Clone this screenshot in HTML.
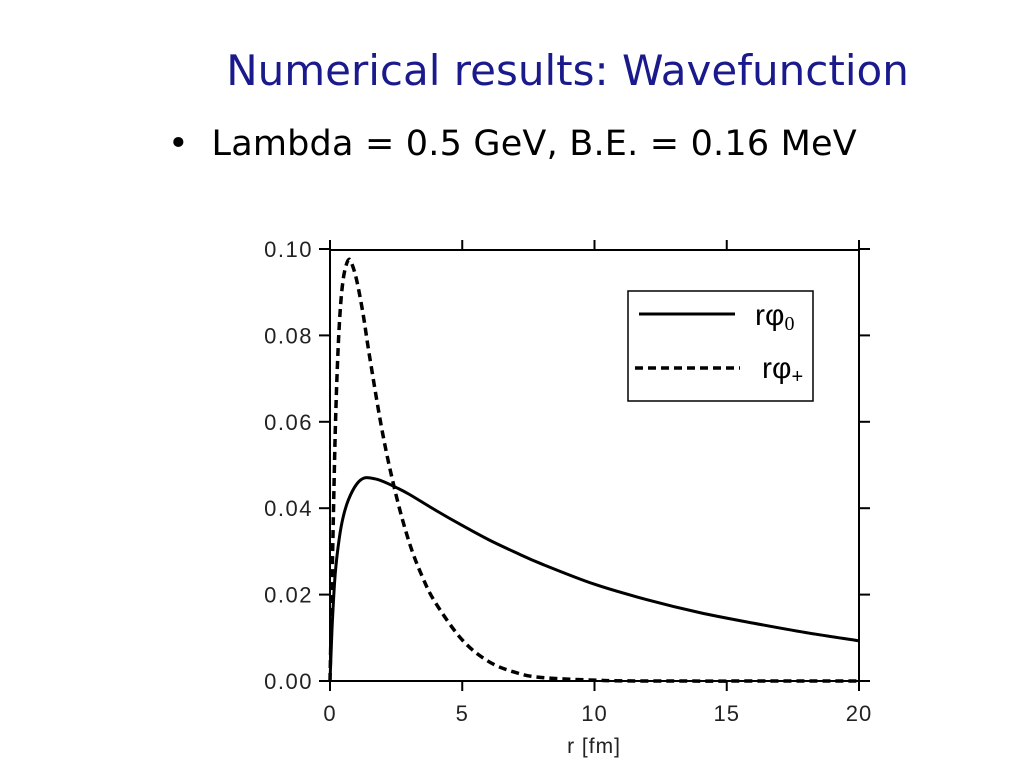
<!DOCTYPE html>
<html><head><meta charset="utf-8"><style>
body{margin:0;background:#fff;width:1024px;height:768px;overflow:hidden;font-family:"Liberation Sans",sans-serif}
.t{position:absolute;left:0;width:1135px;text-align:center;top:46px;font-size:42px;color:#1a1a8c;font-family:"DejaVu Sans","Liberation Sans",sans-serif;}
.b{position:absolute;left:168px;top:124px;font-size:35px;color:#000;font-family:"DejaVu Sans","Liberation Sans",sans-serif;letter-spacing:0.2px}
</style></head><body>
<div class="t">Numerical results: Wavefunction</div>
<div class="b">•&nbsp; Lambda = 0.5 GeV, B.E. = 0.16 MeV</div>
<svg id="c" width="1024" height="768" style="position:absolute;left:0;top:0"></svg>
<script>
const xTicks=[0,5,10,15,20];
const yTicks=[0,0.02,0.04,0.06,0.08,0.10];
const yTickLabels=["0.00","0.02","0.04","0.06","0.08","0.10"];
const rSolid=[0,0.05,0.1,0.2,0.35,0.5,0.7,1,1.3,1.7,2,2.5,3,4,5,6,7,8,10,12,14,16,18,20];
const phi0=[0,0.008,0.015,0.025,0.033,0.038,0.042,0.0455,0.047,0.0468,0.0462,0.0448,0.0432,0.0395,0.036,0.0327,0.0298,0.0271,0.0224,0.0188,0.0158,0.0134,0.0112,0.0093];
const rDash=[0,0.05,0.1,0.2,0.3,0.4,0.5,0.6,0.7,0.8,1,1.25,1.5,2,2.5,3,3.5,4,5,6,7,8,10,12,20];
const phiP=[0,0.015,0.03,0.058,0.076,0.087,0.093,0.096,0.0975,0.097,0.093,0.085,0.075,0.057,0.043,0.032,0.024,0.018,0.0095,0.0045,0.002,0.0008,0.0002,0,0];
const X=v=>330+v*(859-330)/20, Y=v=>681-v*4320;
const s=document.getElementById('c'),NS='http://www.w3.org/2000/svg';
function el(t,a,txt){const e=document.createElementNS(NS,t);for(const k in a)e.setAttribute(k,a[k]);if(txt!=null)e.textContent=txt;s.appendChild(e);return e;}
function path(xs,ys){const p=xs.map((x,i)=>[X(x),Y(ys[i])]);let d='M'+p[0];for(let i=0;i<p.length-1;i++){const p0=p[i-1]||p[i],p1=p[i],p2=p[i+1],p3=p[i+2]||p2;d+=' C'+(p1[0]+(p2[0]-p0[0])/6)+','+(p1[1]+(p2[1]-p0[1])/6)+' '+(p2[0]-(p3[0]-p1[0])/6)+','+(p2[1]-(p3[1]-p1[1])/6)+' '+p2;}return d;}
let f=el('rect',{x:330,y:250,width:529,height:431,fill:'none',stroke:'#000','stroke-width':2});

xTicks.forEach(v=>{let a=el('line',{x1:X(v),x2:X(v),y1:681,y2:691,stroke:'#000','stroke-width':2});
el('line',{x1:X(v),x2:X(v),y1:240,y2:250,stroke:'#000','stroke-width':2});
let t=el('text',{x:X(v),y:721,'text-anchor':'middle','font-size':22,fill:'#222','letter-spacing':1},v);});
yTicks.forEach((v,i)=>{let a=el('line',{x1:319,x2:330,y1:Y(v),y2:Y(v),stroke:'#000','stroke-width':2});
el('line',{x1:859,x2:870,y1:Y(v),y2:Y(v),stroke:'#000','stroke-width':2});
let t=el('text',{x:313,y:Y(v)+8,'text-anchor':'end','font-size':22,fill:'#222','letter-spacing':1.5},yTickLabels[i]);});
let xl=el('text',{x:594,y:753,'text-anchor':'middle','font-size':21,fill:'#222','letter-spacing':1},'r [fm]');
let l1=el('path',{d:path(rSolid,phi0),fill:'none',stroke:'#000','stroke-width':3});
let l2=el('path',{d:path(rDash,phiP),fill:'none',stroke:'#000','stroke-width':3.5,'stroke-dasharray':'8,5'});
let lg=el('rect',{x:628,y:291,width:185,height:110,fill:'#fff',stroke:'#000','stroke-width':1.5});
el('line',{x1:639,x2:735,y1:314,y2:314,stroke:'#000','stroke-width':3});
el('line',{x1:635,x2:740,y1:368,y2:368,stroke:'#000','stroke-width':3.5,'stroke-dasharray':'8,5'});
let e1=el('text',{x:755,y:325,'font-size':30,fill:'#000','font-family':'Liberation Sans, sans-serif'});e1.innerHTML='rφ<tspan font-size="20" dy="5" font-family="Liberation Serif, serif">0</tspan>';
let e2=el('text',{x:762,y:378,'font-size':30,fill:'#000','font-family':'Liberation Sans, sans-serif'});e2.innerHTML='rφ<tspan font-size="20" dy="5">+</tspan>';
</script>
</body></html>
